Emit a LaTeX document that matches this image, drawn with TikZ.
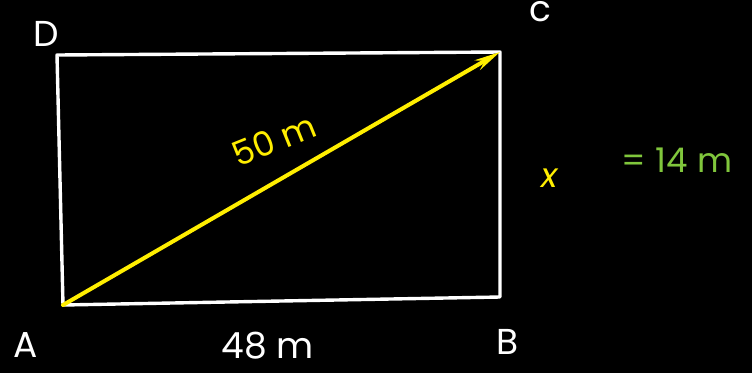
\documentclass[tikz,border=0pt]{standalone}
\usepackage{fontspec}
\setmainfont{Poppins}
\usetikzlibrary{arrows.meta}
\definecolor{penyellow}{RGB}{255,238,0}
\definecolor{pengreen}{RGB}{128,198,60}
\begin{document}
\begin{tikzpicture}[x=1pt,y=-1pt,
  side/.style={draw=white,line width=3.4pt,line cap=round,line join=round},
  diag/.style={draw=penyellow,line width=4pt,line cap=round,-{Stealth[length=26pt,width=11pt]}},
  vert/.style={text=white,font=\fontsize{36}{38}\selectfont,inner sep=0pt},
  ylab/.style={text=penyellow,font=\fontsize{34}{36}\selectfont,inner sep=0pt},
  glab/.style={text=pengreen,font=\fontsize{34}{36}\selectfont,inner sep=0pt}]
\fill[black] (0,0) rectangle (752,373);
\useasboundingbox (0,0) rectangle (752,373);
\coordinate (A) at (63,305);
\coordinate (B) at (500,297);
\coordinate (C) at (500,52);
\coordinate (D) at (57,55);
\draw[side] (A) -- (B) -- (C) -- (D) -- cycle;
\draw[diag] (A) -- (C);
\node[vert] (lD) at (46,34) {D};
\node[vert] (lC) at (540,12) {c};
\node[vert] (lA) at (26,345) {A};
\node[vert] (lB) at (508,342) {B};
\node[vert] (lAB) at (268,346) {48 m};
\node[ylab,rotate=22] (lAC) at (274,140) {50 m};
\node[ylab] (lx) at (550,178) {\itshape x};
\node[glab] (lval) at (677,160) {= 14 m};
\end{tikzpicture}
\end{document}
